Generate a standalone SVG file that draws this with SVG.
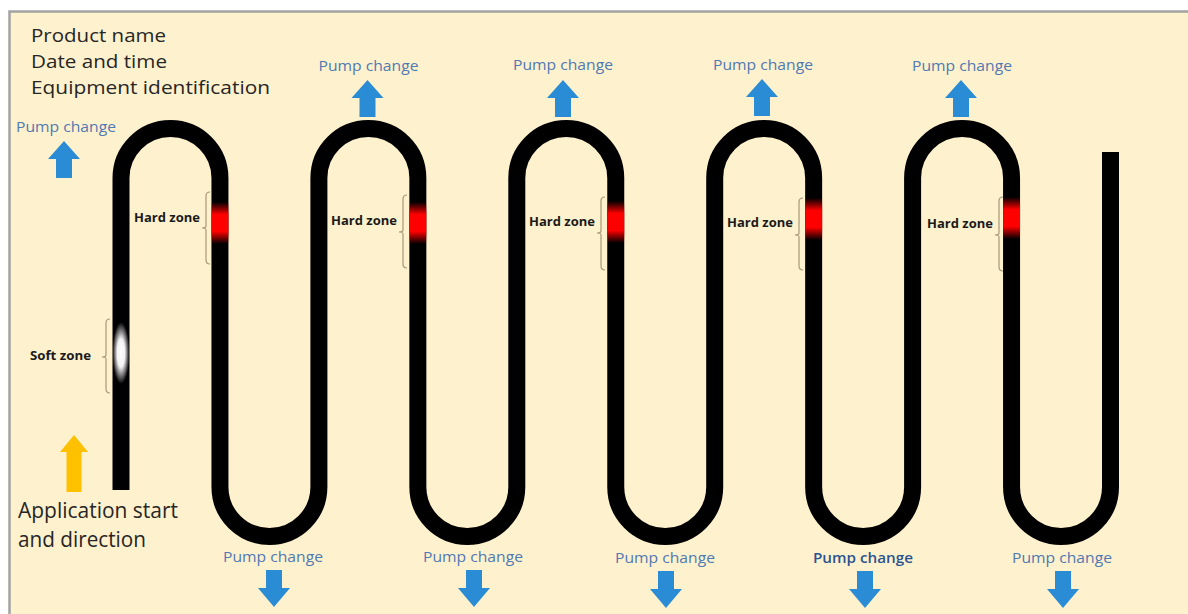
<svg xmlns="http://www.w3.org/2000/svg" width="1188" height="614" viewBox="0 0 1188 614">
  <style>
    .main { font-family: "Open Sans", "Liberation Sans", sans-serif; font-size: 19px; fill: #262626; }
    .pump { font-family: "Open Sans", "Liberation Sans", sans-serif; font-size: 15px; fill: #5079b3; text-anchor: middle; }
    .pumpdark { fill: #2c5390; font-weight: 600; }
    .zone { font-family: "Open Sans", "Liberation Sans", sans-serif; font-size: 12px; font-weight: 700; fill: #1a1a1a; text-anchor: end; }
    .brace { fill: none; stroke: #a8987a; stroke-width: 1.2; }
    .hose { fill: none; stroke: #000000; stroke-width: 17; stroke-linecap: butt; stroke-linejoin: round; }
    .arrowblue { fill: #2b8cd6; }
  </style>
  <defs>
    <linearGradient id="redglow" x1="0" y1="0" x2="0" y2="1">
      <stop offset="0%" stop-color="#ff0000" stop-opacity="0"/>
      <stop offset="30%" stop-color="#ff0000" stop-opacity="1"/>
      <stop offset="70%" stop-color="#ff0000" stop-opacity="1"/>
      <stop offset="100%" stop-color="#ff0000" stop-opacity="0"/>
    </linearGradient>
    <radialGradient id="whiteglow" cx="50%" cy="50%" r="50%">
      <stop offset="0%" stop-color="#ffffff" stop-opacity="1"/>
      <stop offset="45%" stop-color="#ffffff" stop-opacity="0.95"/>
      <stop offset="100%" stop-color="#ffffff" stop-opacity="0"/>
    </radialGradient>
    <path id="upArrow" d="M0,0 L16,18 L8,18 L8,37 L-8,37 L-8,18 L-16,18 Z"/>
    <path id="downArrow" d="M-8,0 H8 V18 H16 L0,37 L-16,18 H-8 Z"/>
  </defs>

  <!-- page background and frame -->
  <rect x="0" y="0" width="1188" height="614" fill="#ffffff"/>
  <rect x="9.5" y="11.5" width="1190" height="610" fill="#fef1cd" stroke="#a3a3a3" stroke-width="2.5"/>

  <!-- header text -->
  <g id="header">
    <text class="main" x="31" y="42" textLength="135" lengthAdjust="spacingAndGlyphs">Product name</text>
    <text class="main" x="31" y="68" textLength="136" lengthAdjust="spacingAndGlyphs">Date and time</text>
    <text class="main" x="31" y="94" textLength="239" lengthAdjust="spacingAndGlyphs">Equipment identification</text>
  </g>

  <!-- the serpentine bead path -->
  <g id="connectors">
    <path class="hose" d="M121,490 V178 A49.475,49.475 0 0 1 219.95,178 V487 A49.475,49.475 0 0 0 318.9,487 V178 A49.475,49.475 0 0 1 417.85,178 V487 A49.475,49.475 0 0 0 516.8,487 V178 A49.475,49.475 0 0 1 615.75,178 V487 A49.475,49.475 0 0 0 714.7,487 V178 A49.475,49.475 0 0 1 813.65,178 V487 A49.475,49.475 0 0 0 912.6,487 V178 A49.475,49.475 0 0 1 1011.55,178 V487 A49.475,49.475 0 0 0 1110.5,487 V152"/>
  </g>

  <!-- soft zone -->
  <g id="soft-zone">
    <rect x="112.5" y="322" width="17" height="62" fill="url(#whiteglow)"/>
    <path class="brace" d="M110,319 Q106,319 106,323 V355 Q106,357 102,357 Q106,357 106,359 V389 Q106,393 110,393"/>
    <text class="zone" x="91" y="360" textLength="61" lengthAdjust="spacingAndGlyphs">Soft zone</text>
  </g>

  <!-- hard zones -->
  <g id="hard-zone-1">
    <rect x="211.45" y="202" width="17" height="42" fill="url(#redglow)"/>
    <path class="brace" d="M210,192 Q206,192 206,196 V226 Q206,228 202,228 Q206,228 206,230 V260 Q206,264 210,264"/>
    <text class="zone" x="200" y="222" textLength="66" lengthAdjust="spacingAndGlyphs">Hard zone</text>
  </g>
  <g id="hard-zone-2">
    <rect x="409.35" y="202" width="17" height="42" fill="url(#redglow)"/>
    <path class="brace" d="M407,195 Q403,195 403,199 V230 Q403,232 399,232 Q403,232 403,234 V264 Q403,268 407,268"/>
    <text class="zone" x="397" y="225" textLength="66" lengthAdjust="spacingAndGlyphs">Hard zone</text>
  </g>
  <g id="hard-zone-3">
    <rect x="607.25" y="201" width="17" height="42" fill="url(#redglow)"/>
    <path class="brace" d="M605,197 Q601,197 601,201 V231 Q601,233 597,233 Q601,233 601,235 V266 Q601,270 605,270"/>
    <text class="zone" x="595" y="226" textLength="66" lengthAdjust="spacingAndGlyphs">Hard zone</text>
  </g>
  <g id="hard-zone-4">
    <rect x="805.15" y="198" width="17" height="42" fill="url(#redglow)"/>
    <path class="brace" d="M803,198 Q799,198 799,202 V233 Q799,235 795,235 Q799,235 799,237 V266 Q799,270 803,270"/>
    <text class="zone" x="793" y="227" textLength="66" lengthAdjust="spacingAndGlyphs">Hard zone</text>
  </g>
  <g id="hard-zone-5">
    <rect x="1003.05" y="197" width="17" height="42" fill="url(#redglow)"/>
    <path class="brace" d="M1003,197 Q999,197 999,201 V233 Q999,235 995,235 Q999,235 999,237 V267 Q999,271 1003,271"/>
    <text class="zone" x="993" y="228" textLength="66" lengthAdjust="spacingAndGlyphs">Hard zone</text>
  </g>

  <!-- application start -->
  <g id="application-start">
    <path d="M74,435 L88,452 L81.5,452 L81.5,492 L66.5,492 L66.5,452 L60,452 Z" fill="#ffc000"/>
    <text class="main" x="18" y="518" style="font-size:21px" textLength="160" lengthAdjust="spacingAndGlyphs">Application start</text>
    <text class="main" x="18" y="547" style="font-size:21px" textLength="128" lengthAdjust="spacingAndGlyphs">and direction</text>
  </g>

  <!-- pump change markers (top) -->
  <g id="pump-top-0">
    <text class="pump" x="66" y="132" textLength="100" lengthAdjust="spacingAndGlyphs">Pump change</text>
    <use href="#upArrow" class="arrowblue" x="64" y="141"/>
  </g>
  <g id="pump-top-1">
    <text class="pump" x="368.5" y="71" textLength="100" lengthAdjust="spacingAndGlyphs">Pump change</text>
    <use href="#upArrow" class="arrowblue" x="367.5" y="80"/>
  </g>
  <g id="pump-top-2">
    <text class="pump" x="563" y="70" textLength="100" lengthAdjust="spacingAndGlyphs">Pump change</text>
    <use href="#upArrow" class="arrowblue" x="563" y="80"/>
  </g>
  <g id="pump-top-3">
    <text class="pump" x="763" y="70" textLength="100" lengthAdjust="spacingAndGlyphs">Pump change</text>
    <use href="#upArrow" class="arrowblue" x="762" y="79"/>
  </g>
  <g id="pump-top-4">
    <text class="pump" x="962" y="71" textLength="100" lengthAdjust="spacingAndGlyphs">Pump change</text>
    <use href="#upArrow" class="arrowblue" x="961" y="80"/>
  </g>

  <!-- pump change markers (bottom) -->
  <g id="pump-bottom-1">
    <text class="pump" x="273" y="562" textLength="100" lengthAdjust="spacingAndGlyphs">Pump change</text>
    <use href="#downArrow" class="arrowblue" x="274" y="570"/>
  </g>
  <g id="pump-bottom-2">
    <text class="pump" x="473" y="562" textLength="100" lengthAdjust="spacingAndGlyphs">Pump change</text>
    <use href="#downArrow" class="arrowblue" x="474" y="570"/>
  </g>
  <g id="pump-bottom-3">
    <text class="pump" x="665" y="563" textLength="100" lengthAdjust="spacingAndGlyphs">Pump change</text>
    <use href="#downArrow" class="arrowblue" x="666" y="571"/>
  </g>
  <g id="pump-bottom-4">
    <text class="pump pumpdark" x="863" y="563" textLength="100" lengthAdjust="spacingAndGlyphs">Pump change</text>
    <use href="#downArrow" class="arrowblue" x="865" y="571"/>
  </g>
  <g id="pump-bottom-5">
    <text class="pump" x="1062" y="563" textLength="100" lengthAdjust="spacingAndGlyphs">Pump change</text>
    <use href="#downArrow" class="arrowblue" x="1063" y="571"/>
  </g>
</svg>
